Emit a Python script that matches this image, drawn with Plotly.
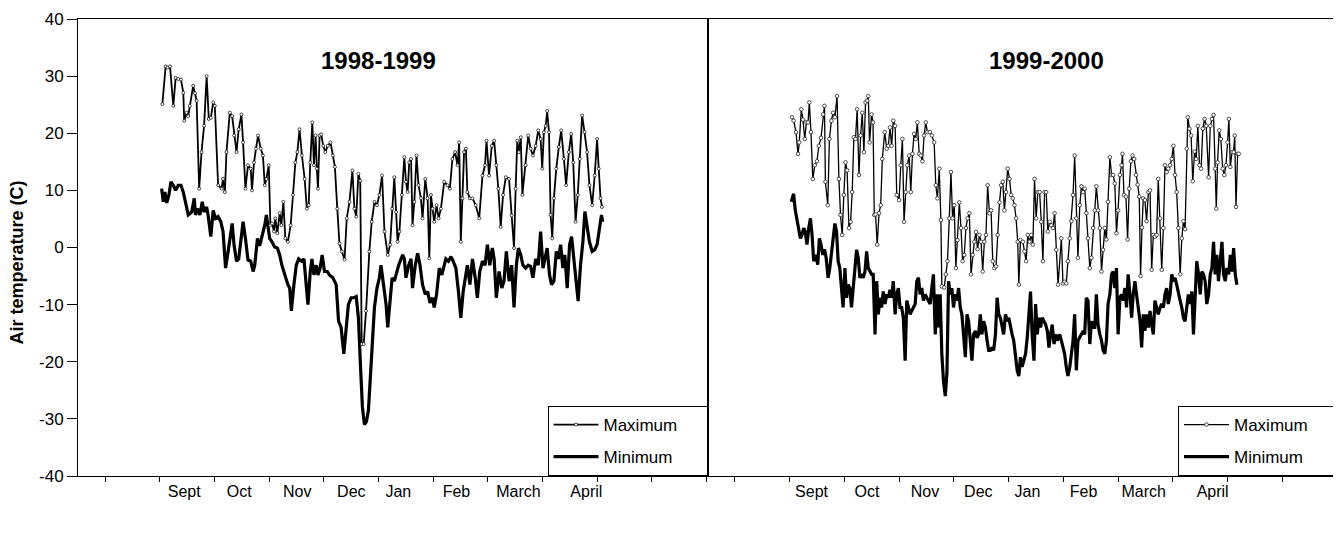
import plotly.graph_objects as go

# ---------------- data (day 0 = 1 September) ----------------
months = ["Sept", "Oct", "Nov", "Dec", "Jan", "Feb", "March", "April"]
left_label_day = [13.3, 43.5, 75.3, 105, 130.8, 162.7, 196.7, 234]
right_label_day = [12, 42.4, 74.2, 103.4, 130.3, 161.1, 194, 231.8]
tick_day = [-30, 0, 30, 60, 90, 120, 150, 180, 210, 240, 270, 300]
y_ticks = [40, 30, 20, 10, 0, -10, -20, -30, -40]
y_tick_text = ["40", "30", "20", "10", "0", "-10", "-20", "-30", "-40"]
panel_titles = ["1998-1999", "1999-2000"]
series_names = ["Maximum", "Minimum"]

# 1998-1999 maximum
lmax_day = [1.3, 3.1, 4.2, 5.5, 7.3, 8.6, 10.0, 11.5, 12.8, 13.3,
            14.6, 15.5, 16.4, 18.2, 19.2, 20.1, 21.5, 22.8, 24.2, 25.6,
            26.8, 27.9, 29.2, 30.1, 31.9, 33.8, 34.6, 35.6, 36.5, 38.3,
            39.6, 40.7, 42.0, 43.2, 44.7, 45.6, 46.9, 48.3, 49.8, 50.5,
            51.6, 52.7, 53.8, 55.3, 56.5, 57.5, 58.4, 59.7, 60.6, 61.5,
            62.6, 63.3, 64.4, 65.7, 66.6, 67.7, 68.8, 70.2, 71.7, 73.0,
            74.3, 75.4, 76.6, 77.9, 79.4, 80.6, 81.6, 82.5, 83.6, 84.5,
            85.4, 86.1, 86.7, 87.6, 88.5, 89.6, 90.7, 92.1, 93.6, 94.9,
            96.0, 97.3, 98.5, 99.8, 101.3, 102.5, 104.0, 105.6, 106.7, 107.7,
            108.9, 109.9, 110.7, 111.8, 113.1, 114.9, 116.2, 117.7, 119.1, 120.4,
            121.9, 123.2, 125.0, 126.3, 127.4, 128.6, 129.6, 130.4, 131.4, 132.8,
            134.1, 135.0, 135.9, 136.8, 137.8, 138.6, 139.6, 140.8, 141.9, 143.2,
            144.1, 145.6, 146.9, 147.8, 148.7, 149.6, 150.5, 151.8, 152.9, 154.2,
            156.0, 157.8, 159.1, 160.5, 162.0, 163.3, 164.2, 165.1, 166.0, 166.9,
            167.9, 168.7, 170.1, 171.5, 173.3, 175.2, 177.0, 178.4, 179.2, 180.6,
            182.1, 183.4, 184.6, 185.7, 187.0, 188.3, 189.8, 191.6, 193.0, 194.3,
            195.2, 196.1, 197.0, 198.0, 198.9, 200.7, 202.1, 203.4, 204.7, 206.2,
            207.6, 208.9, 209.8, 210.7, 211.7, 212.5, 213.5, 214.4, 215.3, 216.2,
            217.5, 218.9, 220.2, 221.7, 222.9, 224.4, 225.7, 226.8, 228.1, 229.3,
            230.4, 231.7, 233.0, 234.4, 235.7, 237.2, 238.6, 239.9, 240.8, 241.8,
            242.6]
lmax_val = [25.1, 31.7, 31.5, 31.7, 24.8, 29.7, 29.5, 29.4, 27.1, 22.2,
            23.6, 23.0, 24.8, 28.3, 27.0, 25.7, 10.3, 16.7, 21.3, 30.0,
            22.5, 22.7, 25.4, 24.8, 10.9, 10.3, 12.0, 9.7, 16.7, 23.6,
            23.0, 19.6, 16.7, 20.7, 23.3, 18.4, 10.3, 14.4, 13.8, 10.0,
            14.9, 17.3, 19.6, 17.3, 16.1, 10.9, 12.0, 14.4, 3.9, 4.2,
            2.8, 5.1, 2.5, 6.0, 3.9, 8.0, 1.6, 1.0, 3.9, 9.2,
            14.9, 16.7, 20.7, 16.1, 12.0, 6.8, 7.4, 14.9, 21.9, 14.4,
            19.6, 13.8, 10.3, 19.6, 19.8, 17.8, 16.7, 17.8, 18.4, 16.1,
            14.1, 6.8, 0.7, -0.7, -2.1, 5.1, 8.0, 13.5, 6.8, 5.4,
            12.9, 11.7, -16.9, -16.9, -11.1, -0.7, 4.5, 8.0, 7.4, 9.2,
            12.6, 2.8, -1.3, 0.5, 6.8, 12.3, 6.2, 1.0, 2.8, 9.2,
            15.8, 11.5, 9.7, 14.9, 15.5, 3.9, 8.0, 16.1, 10.9, 8.6,
            5.1, 12.0, 8.6, -1.9, 9.2, 6.8, 4.5, 7.4, 5.1, 6.8,
            11.5, 10.9, 10.3, 15.5, 16.7, 14.4, 18.4, 1.0, 8.6, 16.7,
            17.3, 9.7, 8.6, 8.6, 7.4, 5.1, 12.6, 14.4, 18.7, 12.6,
            17.8, 18.7, 14.4, 10.3, 3.6, 9.2, 12.3, 12.0, 5.6, -0.1,
            10.3, 18.7, 16.7, 19.3, 9.2, 14.4, 19.6, 17.3, 16.1, 17.8,
            20.5, 19.0, 13.8, 20.2, 21.3, 23.9, 20.2, 5.7, 1.6, 8.6,
            13.8, 17.6, 20.5, 15.5, 10.9, 16.7, 19.9, 14.9, 4.5, 9.2,
            15.5, 23.1, 20.2, 16.7, 10.9, 7.4, 12.6, 19.0, 13.8, 8.6,
            7.1]

# 1998-1999 minimum
lmin_day = [0.9, 1.8, 2.7, 3.7, 4.9, 6.0, 7.3, 8.6, 10.0, 11.5,
            12.8, 14.1, 15.5, 17.4, 18.8, 19.5, 20.6, 21.9, 23.2, 24.2,
            25.6, 26.4, 27.9, 29.2, 30.5, 31.9, 33.4, 34.6, 36.0, 37.4,
            38.3, 39.6, 40.7, 42.0, 43.2, 44.3, 45.6, 46.9, 48.3, 49.8,
            51.1, 52.0, 53.5, 54.7, 56.0, 57.5, 58.4, 59.3, 60.2, 61.5,
            62.9, 64.4, 65.7, 66.9, 68.0, 69.4, 70.2, 71.2, 72.1, 73.5,
            74.8, 76.1, 77.6, 79.0, 80.3, 81.2, 82.5, 83.4, 84.5, 85.8,
            86.7, 87.9, 89.0, 90.3, 91.8, 93.0, 94.9, 96.7, 98.0, 99.4,
            100.9, 102.2, 103.4, 104.9, 106.4, 107.7, 108.9, 110.0, 111.1, 112.2,
            113.3, 114.4, 115.5, 116.7, 117.7, 119.1, 120.4, 121.3, 122.8, 124.1,
            125.0,
            126.3, 127.4, 128.6, 129.9, 131.0, 132.3, 133.2, 134.1, 135.0, 136.5,
            137.8, 138.6, 140.1, 141.4, 142.7, 144.1, 145.6, 146.9, 148.2, 149.6,
            150.5, 151.8, 153.3, 154.7, 156.0, 156.9, 158.3, 159.7, 160.9, 162.4,
            163.8, 165.1, 166.4, 167.5, 168.7, 170.1, 171.5, 173.0, 174.2, 175.5,
            177.0, 178.4, 179.7, 181.0, 182.4, 183.4, 184.6, 186.1, 187.6, 188.8,
            190.1, 191.6, 193.0, 194.3, 195.6, 196.7, 198.0, 199.2, 200.7, 202.1,
            203.4, 204.7, 206.2, 207.6, 208.9, 210.2, 211.3, 212.5, 213.8, 214.9,
            216.2, 217.5, 218.6, 219.9, 221.1, 222.2, 223.5, 224.8, 225.9, 227.1,
            228.4, 229.5, 230.8, 232.1, 233.2, 234.4, 235.7, 237.2, 238.6, 239.9,
            241.2, 242.3, 243.0]
lmin_val = [10.3, 8.0, 9.7, 7.8, 9.2, 11.5, 10.9, 10.0, 10.9, 10.9,
            9.7, 7.4, 5.7, 6.2, 8.6, 5.7, 6.8, 5.7, 8.0, 6.2,
            7.1, 5.7, 1.9, 6.5, 5.1, 5.4, 4.5, 2.8, -3.6, -0.7,
            1.6, 4.2, 0.3, -2.4, -2.0, 1.6, 4.5, 1.6, -2.2, -2.4,
            -4.2, -3.1, 1.6, 0.3, 1.9, 3.9, 5.7, 3.9, 1.6, 1.0,
            0.1, -0.1, -1.3, -3.1, -4.2, -5.9, -6.5, -7.1, -11.1, -6.5,
            -3.1, -2.0, -2.4, -2.0, -6.5, -10.0, -4.2, -2.0, -4.8, -3.1,
            -4.8, -3.6, -1.3, -4.2, -4.2, -4.8, -5.3, -6.5, -12.9, -14.0,
            -18.6, -14.6, -10.0, -8.8, -8.8, -8.6, -12.3, -20.4, -27.9, -31.0,
            -30.5, -28.5, -22.1, -15.8, -10.5, -7.1, -5.3, -3.1, -6.5, -10.0,
            -14.0,
            -8.8, -5.3, -5.9, -4.2, -3.1, -2.0, -1.3, -2.0, -5.3, -3.1,
            -2.0, -7.1, -3.1, -1.0, -3.1, -6.5, -8.2, -7.7, -9.7, -8.8,
            -10.5, -8.2, -3.6, -4.8, -3.1, -2.0, -2.4, -1.6, -2.4, -3.6,
            -7.7, -12.3, -7.7, -5.3, -3.1, -6.5, -2.0, -5.3, -8.8, -4.2,
            -2.4, -3.1, 0.5, -3.1, -0.1, -2.0, -8.8, -4.2, -7.1, -5.9,
            -0.7, -5.9, -3.1, -10.5, -3.1, -0.1, -1.3, -3.1, -3.6, -3.1,
            -3.3, -5.3, -2.0, -3.1, 2.8, -3.6, -2.0, -0.1, -4.8, -6.5,
            -5.9, -0.7, -2.0, 0.5, -3.6, -1.3, -7.1, 0.5, 1.9, -2.0,
            -6.5, -9.4, -3.1, 1.0, 6.3, 3.9, 1.0, -0.7, -0.4, 0.5,
            3.9, 5.7, 4.5]

# 1999-2000 maximum
rmax_day = [1.3, 2.2, 3.5, 4.6, 5.3, 6.4, 7.3, 8.3, 9.2, 10.1,
            10.8, 11.7, 12.7, 13.8, 15.0, 16.0, 17.2, 18.3, 19.1, 19.6,
            20.9, 21.8, 22.9, 23.8, 24.8, 26.0, 27.0, 27.9, 28.8, 29.7,
            30.6, 31.5, 32.5, 33.4, 34.3, 35.2, 36.1, 37.0, 38.0, 38.9,
            39.8, 40.7, 41.6, 42.5, 43.1, 43.8, 44.9, 45.7, 46.4, 47.1,
            48.0, 49.0, 49.9, 50.8, 52.1, 53.2, 54.1, 55.0, 55.9, 56.8,
            57.8, 58.7, 60.0, 60.9, 61.8, 62.7, 63.6, 64.5, 65.5, 66.4,
            67.3, 68.2, 69.1, 70.0, 71.0, 71.9, 72.8, 73.7, 74.6, 75.5,
            76.8, 77.9, 79.2, 80.1, 81.0, 82.0, 82.9, 83.4, 84.7, 85.6,
            86.5, 87.5, 88.4, 89.3, 90.2, 91.1, 92.0, 93.0, 93.9, 94.8,
            95.7, 96.6, 97.5, 98.5, 99.4, 100.3, 101.2, 102.1, 103.0, 104.0,
            104.9, 105.8, 106.7, 107.6, 108.5, 109.5, 110.4, 111.3, 112.2, 113.1,
            114.0, 115.0, 115.9, 116.8, 117.7, 118.6, 119.5, 120.5, 121.4, 122.3,
            123.2, 124.1, 125.0, 125.6, 126.5, 127.8, 128.7, 129.6, 130.5, 131.5,
            132.4, 133.3, 134.2, 135.1, 136.0, 137.0, 137.9, 138.8, 139.7, 140.6,
            141.5, 142.5, 143.4, 144.3, 145.2, 146.1, 147.1,
            148.9, 149.8, 150.7, 151.6, 152.5, 153.5, 154.4, 155.3, 156.2, 157.1,
            158.0, 159.0, 159.9, 160.8, 161.7, 162.6, 163.5, 164.5, 165.4, 166.3,
            167.2, 168.1, 169.0, 170.0, 170.9, 171.8, 172.7, 173.6, 174.5, 175.5,
            176.4, 177.3, 178.2, 179.1, 180.0, 181.0, 181.9, 182.4, 183.2, 184.3,
            185.2, 186.1, 187.0, 187.9, 188.8, 189.8, 190.7, 191.6, 192.3, 193.1,
            193.8, 194.7, 195.6, 196.6, 197.5, 198.4, 199.3, 200.2, 201.1, 202.0,
            203.0, 203.9, 204.8, 205.7, 206.6, 207.5, 208.5, 209.4, 210.3, 211.2,
            212.1, 213.0, 214.0, 214.9, 215.8, 216.7, 217.6, 218.2, 219.1, 220.0,
            220.9, 221.9, 222.8, 223.7, 224.6, 225.5, 226.4, 227.4, 228.3, 229.6,
            230.5, 231.4, 232.3, 233.2, 233.8, 234.5, 235.4, 236.3, 237.3, 238.2,
            239.1, 240.0, 240.7, 241.5, 242.4, 243.3, 243.9, 244.6, 245.5, 246.1]
rmax_val = [22.8, 22.2, 20.2, 16.4, 18.4, 24.2, 22.4, 19.0, 21.9, 21.9,
            25.4, 20.2, 12.0, 14.4, 15.1, 17.8, 19.2, 23.3, 24.8, 11.5,
            7.4, 19.0, 22.2, 23.6, 22.8, 26.5, 12.0, 5.7, 2.2, 9.2,
            14.9, 13.5, 3.4, 4.5, 9.7, 19.3, 19.0, 24.2, 12.7, 19.6,
            23.6, 16.7, 25.4, 25.7, 26.5, 18.4, 23.3, 21.9, 5.7, 5.8,
            0.5, 6.0, 7.4, 15.5, 20.2, 17.3, 17.8, 21.0, 17.8, 22.2,
            21.3, 9.2, 8.3, 14.4, 19.0, 4.5, 9.7, 14.4, 16.1, 9.7,
            16.4, 19.9, 19.0, 21.9, 16.4, 16.1, 15.1, 19.6, 21.9, 20.2,
            20.2, 19.6, 18.4, 10.9, 8.6, 13.8, 4.8, -6.8, -7.0, -4.7,
            -2.4, 5.1, 13.2, 5.1, 7.4, -3.6, 1.3, 7.9, 3.4, -2.4,
            -1.3, 3.4, 5.1, 6.0, -4.7, -1.3, 1.0, 2.7, -0.3, 2.2,
            1.0, -4.2, 1.0, 2.2, 10.9, 6.0, 6.5, -2.4, -3.6, -3.3,
            2.2, 7.9, 10.9, 11.5, 6.5, 9.7, 13.8, 12.0, 9.2, 8.6,
            7.4, 5.1, 1.0, -6.5, 1.3, 1.0, -0.7, -2.4, 2.2, 1.0,
            2.2, 0.5, 12.0, 5.1, 9.7, 9.7, 4.5, -2.4, 9.7, 9.7,
            2.8, 4.5, 3.9, 3.4, 6.0, -0.4, -6.5,
            1.6, -6.3, -6.0, -6.3, -2.4, 1.6, 4.6, 9.2, 16.1, 5.1,
            -1.8, 7.4, 10.7, 9.7, 10.3, 6.0, 1.6, -3.6, -1.8, 3.4,
            6.5, 10.7, 6.5, 3.4, -4.2, -0.4, 3.4, 1.4, 8.0, 15.8,
            12.7, 12.7, 11.2, 2.5, 6.5, 12.7, 14.4, 16.4, 9.2, 8.9,
            1.4, 10.3, 15.1, 16.1, 15.5, 12.7, 11.0, 8.9, -5.0, 3.5,
            8.6, 8.3, 4.6, 9.7, 10.0, -3.9, 2.2, 1.9, 2.2, 12.0,
            5.1, -3.9, 3.4, 14.4, 13.2, 13.8, 14.4, 15.5, 17.8, 12.7,
            9.7, 3.4, -4.7, 1.6, 4.6, 3.2, 17.3, 22.8, 20.8, 19.6,
            11.6, 16.8, 15.5, 21.3, 14.4, 13.8, 20.8, 22.5, 21.3, 12.3,
            21.3, 22.5, 23.2, 13.8, 6.8, 14.9, 20.5, 19.0, 13.8, 12.7,
            14.4, 18.4, 22.5, 14.1, 16.7, 16.7, 19.6, 7.1, 16.4, 16.4]

# 1999-2000 minimum
rmin_day = [0.9, 2.2, 3.1, 4.6, 5.9, 6.8, 7.7, 8.6, 9.5, 10.5,
            11.4, 12.3, 13.2, 14.5, 15.4, 16.3, 17.2, 18.2, 19.1, 20.0,
            21.1, 22.0, 22.9, 23.8, 24.8, 25.7, 26.6, 27.5, 28.4, 29.3,
            30.3, 31.2, 32.1, 33.0, 33.9, 34.8, 35.8, 36.7, 37.6, 38.5,
            39.4, 40.3, 41.3, 42.2, 43.1, 44.0, 44.9, 45.8, 46.8, 47.7,
            48.6, 49.5, 50.4, 51.3, 52.3, 53.2, 54.1, 55.0, 55.9, 56.8,
            57.8, 58.7, 59.6, 60.5, 61.4, 62.3, 63.3, 64.2, 65.1, 66.0,
            66.9, 67.8, 68.8, 69.7, 70.6, 71.5, 72.4, 73.3, 74.3, 75.2,
            76.1, 77.0, 77.9, 78.8, 79.8, 80.7, 81.6, 82.5, 83.4, 84.3,
            85.3, 86.2, 87.1, 88.0, 88.9, 89.8, 90.8, 91.7, 92.6, 93.5,
            94.4, 95.3, 96.3, 97.2, 98.1, 99.0, 99.9, 100.8, 101.8, 102.7,
            103.6, 104.5, 105.4, 106.3, 107.3, 108.2, 109.1, 110.0, 110.9, 111.8,
            112.8, 113.7, 114.6, 115.5, 116.4, 117.3, 118.3, 119.2, 120.1, 121.0,
            121.9, 122.8, 123.8, 124.7, 125.6, 126.5, 127.4, 128.4, 129.3, 130.2,
            131.1, 132.0, 132.9, 133.9, 134.8, 135.7, 136.6, 137.5, 138.4, 139.4,
            140.3, 141.2, 142.1, 143.0, 143.9, 144.9, 145.8, 146.7,
            148.0, 148.9, 149.8, 150.7, 151.6, 152.5, 153.5, 154.4, 155.3, 156.2,
            157.1, 158.0, 159.0, 159.9, 160.8, 161.7, 162.6, 163.5, 164.5, 165.4,
            166.3, 167.2, 168.1, 169.0, 170.0, 170.9, 171.8, 172.7, 173.6, 174.5,
            175.5, 176.4, 177.3, 178.2, 179.1, 180.0, 181.0, 181.9, 182.8, 183.7,
            184.6, 185.5, 186.5, 187.4, 188.3, 189.2, 190.1, 191.0, 192.0, 192.9,
            193.8, 194.7, 195.6, 196.6, 197.5, 198.4, 199.3, 200.2, 201.1, 202.0,
            203.0, 203.9, 204.8, 205.7, 206.6, 207.5, 208.5, 209.4, 210.3, 211.2,
            212.1, 213.0, 214.0, 214.9, 215.8, 216.7, 217.6, 218.5, 219.5, 220.4,
            221.3, 222.2, 223.1, 224.1, 225.0, 225.9, 226.8, 227.7, 228.6, 229.6,
            230.5, 231.4, 232.3, 233.2, 234.1, 235.0, 236.0, 236.9, 237.8, 238.7,
            239.6, 240.6, 241.5, 242.4, 243.3, 244.2, 245.1]
rmin_val = [8.0, 9.4, 6.5, 3.9, 1.6, 2.2, 3.4, 2.8, 0.5, 3.4,
            5.1, 2.2, -2.4, -1.3, -3.0, 1.6, 0.5, -1.3, -0.3, -1.8,
            -5.3, -3.6, -1.3, 1.6, 4.2, 2.8, -2.4, -3.6, -6.5, -10.5,
            -3.6, -8.8, -6.5, -7.1, -10.5, -7.1, -3.6, -0.4, -1.8, -5.3,
            -4.7, -5.3, -4.2, -0.7, -3.6, -4.2, -4.7, -4.7, -15.2, -5.9,
            -11.7, -8.8, -10.5, -7.7, -9.9, -8.2, -8.8, -7.4, -8.8, -5.9,
            -11.7, -8.2, -7.1, -10.5, -10.5, -12.3, -19.8, -9.3, -10.5, -11.7,
            -11.1, -10.5, -9.9, -5.9, -5.3, -8.2, -7.1, -9.3, -8.2, -8.8,
            -9.3, -9.9, -7.1, -4.7, -15.2, -8.2, -14.0, -8.2, -18.6, -23.3,
            -26.0, -22.0, -5.9, -8.2, -7.1, -10.5, -8.2, -9.3, -7.1, -10.5,
            -11.7, -15.2, -19.2, -11.7, -12.9, -16.3, -19.8, -15.2, -14.6, -15.8,
            -15.2, -11.7, -15.2, -12.9, -14.0, -16.3, -18.0, -18.0, -17.5, -18.0,
            -15.2, -8.8, -11.7, -12.3, -13.5, -15.2, -11.7, -12.9, -12.3, -14.0,
            -15.2, -16.3, -19.2, -21.5, -22.5, -19.2, -20.9, -19.8, -18.6, -15.8,
            -11.1, -7.7, -15.2, -19.8, -9.9, -15.2, -12.3, -14.0, -12.3, -12.9,
            -13.5, -14.6, -17.5, -15.2, -13.5, -16.9, -15.2, -16.3,
            -15.2, -16.3, -17.5, -18.6, -20.9, -22.5, -21.0, -18.6, -16.3, -11.7,
            -21.5, -16.3, -15.8, -15.2, -14.6, -15.2, -8.8, -9.3, -16.9, -12.9,
            -14.0, -14.0, -8.2, -13.5, -15.2, -16.3, -18.0, -18.6, -16.3, -9.9,
            -8.2, -4.7, -4.2, -7.1, -3.6, -15.2, -8.8, -8.2, -9.3, -7.1,
            -10.5, -4.7, -8.2, -12.3, -8.2, -5.9, -8.2, -10.5, -12.9, -17.5,
            -11.7, -14.6, -11.7, -14.0, -11.1, -13.5, -15.2, -9.3, -10.5, -11.7,
            -10.5, -9.9, -10.5, -8.2, -7.1, -9.9, -8.2, -4.7, -5.9, -5.3,
            -6.5, -8.2, -9.3, -10.5, -12.3, -12.9, -10.5, -8.2, -9.9, -7.7,
            -15.2, -8.2, -2.4, -4.7, -8.2, -4.2, -4.7, -5.9, -9.9, -8.2,
            -4.7, -3.6, 1.0, -4.7, -1.3, -5.9, -1.8, 1.0, -4.7, -5.9,
            -3.6, -4.7, -1.3, -4.2, -0.1, -4.7, -6.5]

# ---------------- figure ----------------
FONT = "Arial, 'Liberation Sans', sans-serif"
split = 630 / 1261
PAD = "&nbsp;" * 5   # trailing room inside the legend frame

fig = go.Figure()

panels = [
    ("x", "y", "legend", lmax_day, lmax_val, lmin_day, lmin_val, 1.8,
     dict(size=3, color="white", line=dict(width=0.7, color="black"))),
    ("x2", "y2", "legend2", rmax_day, rmax_val, rmin_day, rmin_val, 1.3,
     dict(size=3.6, color="white", line=dict(width=0.8, color="#222"))),
]
for xa, ya, lg, mxd, mxv, mnd, mnv, mw, mk in panels:
    fig.add_trace(go.Scatter(x=mnd, y=mnv, mode="lines", name=series_names[1] + PAD,
                             line=dict(color="black", width=3.2),
                             xaxis=xa, yaxis=ya, legend=lg, legendrank=2,
                             legendgroup=lg + "min"))
    fig.add_trace(go.Scatter(x=mxd, y=mxv, mode="lines+markers", name=series_names[0] + PAD,
                             line=dict(color="black", width=mw), marker=mk,
                             xaxis=xa, yaxis=ya, legend=lg, legendrank=1,
                             legendgroup=lg + "max"))


def xaxis_style(label_days):
    return dict(range=[-45, 300.5], showline=True, linecolor="black", linewidth=1,
                mirror=True, showgrid=False, zeroline=False,
                tickmode="array", tickvals=label_days, ticktext=months,
                ticks="", ticklabelstandoff=1,
                tickfont=dict(family=FONT, size=16, color="black"),
                minor=dict(tickmode="array", tickvals=tick_day, ticks="outside",
                           ticklen=5, tickwidth=1, tickcolor="black", showgrid=False))


ycommon = dict(range=[-40, 40], showline=True, linecolor="black", linewidth=1,
               mirror=True, showgrid=False, zeroline=False)

legcommon = dict(y=0, yanchor="bottom", xanchor="right", bgcolor="white",
                 bordercolor="black", borderwidth=1, itemwidth=45,
                 traceorder="grouped", tracegroupgap=7,
                 font=dict(family=FONT, size=17, color="black"))

# the page body has an 8px margin, so the figure is sized to fit inside it
fig.update_layout(
    width=1333, height=525,
    margin=dict(l=70, r=2, t=8, b=57),
    paper_bgcolor="white", plot_bgcolor="white",
    font=dict(family=FONT, color="black"),
    showlegend=True,
    xaxis=dict(domain=[0, split], anchor="y", **xaxis_style(left_label_day)),
    xaxis2=dict(domain=[split, 1], anchor="y2", **xaxis_style(right_label_day)),
    yaxis=dict(domain=[0, 1], anchor="x", tickmode="array", tickvals=y_ticks,
               ticktext=y_tick_text, ticks="outside", ticklen=10, tickcolor="black",
               ticklabeloverflow="allow",
               tickfont=dict(family=FONT, size=17, color="black"), **ycommon),
    yaxis2=dict(domain=[0, 1], anchor="x2", showticklabels=False, ticks="",
                **ycommon),
    legend=dict(x=split, **legcommon),
    legend2=dict(x=1, **legcommon),
    annotations=[
        dict(text="<b>%s</b>" % panel_titles[0], xref="x domain", yref="y domain",
             x=0.477, y=0.909, showarrow=False, xanchor="center", yanchor="middle",
             font=dict(family=FONT, size=24, color="black")),
        dict(text="<b>%s</b>" % panel_titles[1], xref="x2 domain", yref="y2 domain",
             x=0.537, y=0.909, showarrow=False, xanchor="center", yanchor="middle",
             font=dict(family=FONT, size=24, color="black")),
        dict(text="<b>Air temperature (C)</b>", xref="paper", yref="paper",
             x=-0.048, y=0.466, textangle=-90, showarrow=False,
             xanchor="center", yanchor="middle",
             font=dict(family=FONT, size=18, color="black")),
    ],
)

fig.write_html("out.html")
